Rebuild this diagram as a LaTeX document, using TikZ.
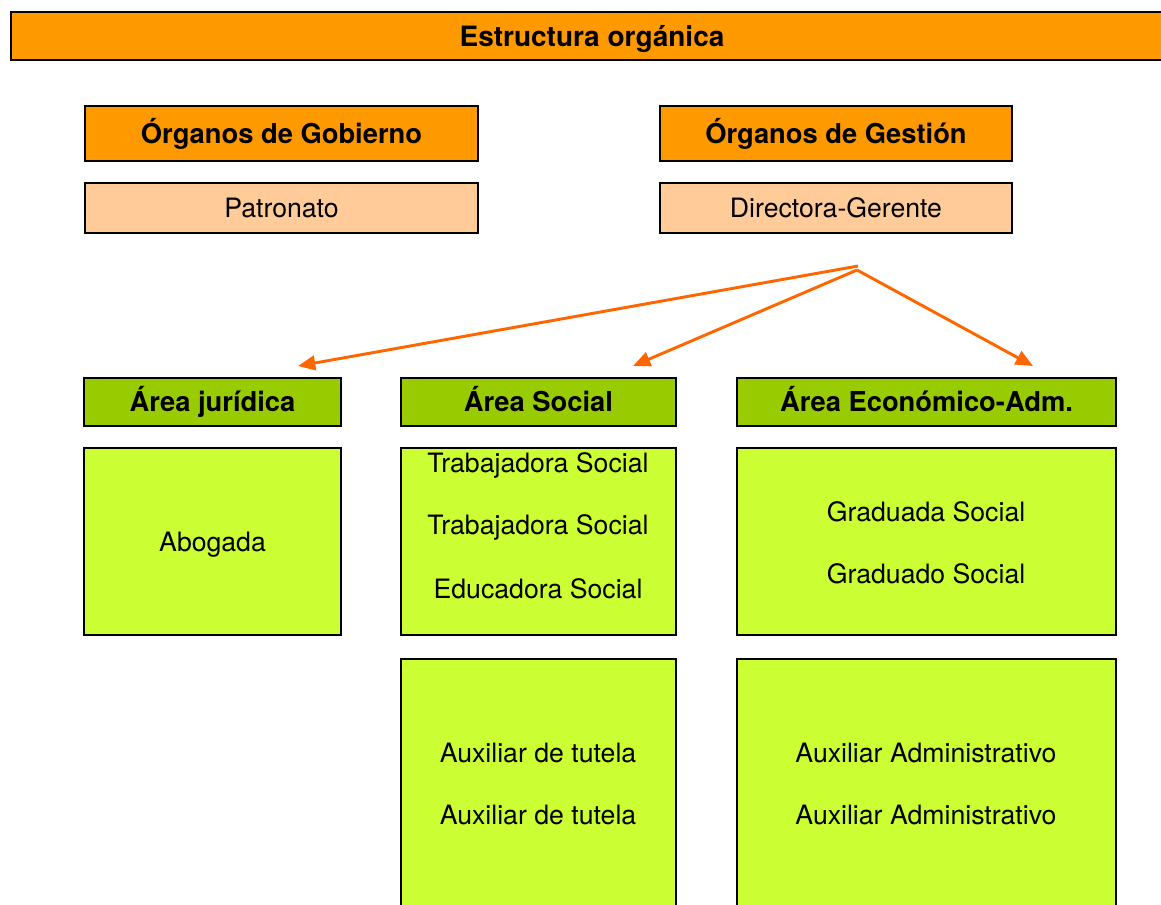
\documentclass[tikz,border=0pt]{standalone}
\usepackage{fontspec}
\setmainfont{TeX Gyre Heros}
\usetikzlibrary{arrows.meta}
\definecolor{orgorange}{HTML}{FF9900}
\definecolor{orgpeach}{HTML}{FFCC99}
\definecolor{orggreen}{HTML}{99CC00}
\definecolor{orglime}{HTML}{CCFF33}
\definecolor{orgarrow}{HTML}{FF6600}
\tikzset{
  box/.style={draw=black, line width=1.5pt, inner sep=0pt, outer sep=0pt, align=center,
    text height=14.5pt, text depth=0pt},
  boldtxt/.style={font=\bfseries\fontsize{20.5}{24}\selectfont},
  plaintxt/.style={font=\fontsize{20}{24}\selectfont},
  headbox/.style={box, fill=orgorange, boldtxt},
  peachbox/.style={box, fill=orgpeach, plaintxt},
  areahead/.style={box, fill=orggreen, boldtxt},
  staffbox/.style={box, fill=orglime, plaintxt},
  staffline/.style={inner sep=0pt, plaintxt, text height=14.5pt, text depth=0pt},
  link/.style={draw=orgarrow, line width=2.2pt, -{Triangle[length=13pt,width=11pt]}}
}
% \bx{name}{style}{x1}{y1}{x2}{y2}{text}  (pixel coordinates)
\newcommand{\bx}[7]{%
  \node[#2, minimum width={(#5-#3)*0.75pt}, minimum height={(#6-#4)*0.75pt}]
    (#1) at ({(#3+#5)/2},{(#4+#6)/2}) {#7};}
\begin{document}
\begin{tikzpicture}[x=0.75pt, y=-0.75pt]
\useasboundingbox (0,0) rectangle (1161,904);
\clip (0,0) rectangle (1161,904);
% title
\bx{title}{headbox}{11}{12}{1175}{60}{}
\node[inner sep=0pt, font=\bfseries\fontsize{21}{24}\selectfont, text height=15pt, text depth=0pt] (titletext) at (592,36) {Estructura orgánica};
% top blocks
\bx{gob}{headbox}{85}{106}{478}{161}{Órganos de Gobierno}
\bx{pat}{peachbox}{85}{183}{478}{233}{Patronato}
\bx{ges}{headbox}{660}{106}{1012}{161}{Órganos de Gestión}
\bx{dir}{peachbox}{660}{183}{1012}{233}{Directora-Gerente}
% area headers
\bx{jur}{areahead}{84}{378}{341}{426}{Área jurídica}
\bx{soc}{areahead}{401}{378}{676}{426}{Área Social}
\bx{eco}{areahead}{737}{378}{1116}{426}{Área Económico-Adm.}
% staff boxes
\bx{abo}{staffbox}{84}{448}{341}{635}{Abogada}
\bx{socst}{staffbox}{401}{448}{676}{635}{}
\bx{ecost}{staffbox}{737}{448}{1116}{635}{}
\bx{tut}{staffbox}{401}{659}{676}{930}{}
\bx{adm}{staffbox}{737}{659}{1116}{930}{}
\node[staffline] (ts1) at (538,463) {Trabajadora Social};
\node[staffline] (ts2) at (538,525) {Trabajadora Social};
\node[staffline] (es1) at (538,589) {Educadora Social};
\node[staffline] (gs1) at (926,512) {Graduada Social};
\node[staffline] (gs2) at (926,574) {Graduado Social};
\node[staffline] (at1) at (538,753) {Auxiliar de tutela};
\node[staffline] (at2) at (538,815) {Auxiliar de tutela};
\node[staffline] (aa1) at (926,753) {Auxiliar Administrativo};
\node[staffline] (aa2) at (926,815) {Auxiliar Administrativo};
% arrows
\coordinate (srcA) at (858,266);
\coordinate (srcB) at (857,270);
\coordinate (tipJ) at (298,366);
\coordinate (tipS) at (633,366);
\coordinate (tipE) at (1033,366);
\draw[link] (srcA) -- (tipJ);
\draw[link] (srcB) -- (tipS);
\draw[link] (srcB) -- (tipE);
\end{tikzpicture}
\end{document}
